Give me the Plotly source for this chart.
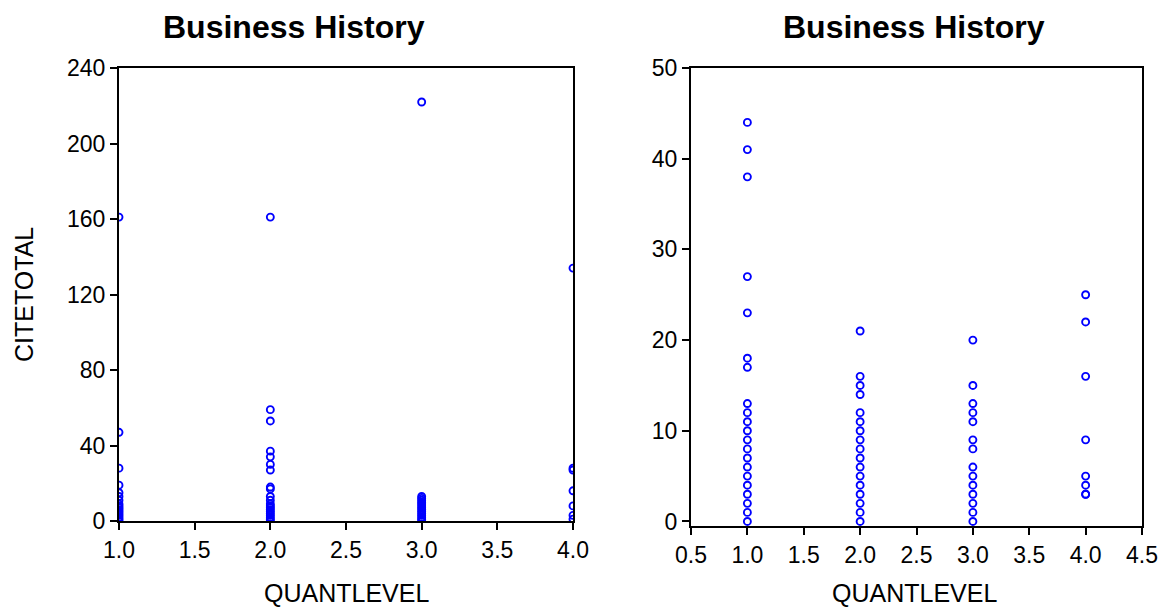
import plotly.graph_objects as go

# page has an ~8px body margin; coordinates below are measured in window pixels
OFF = 8
W, H = 1168 - OFF, 607 - OFF

# ---- data ----
quant_levels = [1, 2, 3, 4]

# left panel: all observations
left_q1 = [161, 47, 28, 19, 15, 13, 11, 9, 8, 7, 6, 5, 4, 3, 2, 1, 0]
left_q2 = [161, 59, 53, 37, 34, 30, 27, 18, 17, 13, 11, 9, 8, 7, 6, 5, 4, 3, 2, 1, 0]
left_q3 = [222, 13, 12, 11, 10, 9, 8, 7, 6, 5, 4, 3, 2, 1, 0]
left_q4 = [134, 28, 27, 16, 8, 3, 1]

# right panel: subset
right_q1 = [44, 41, 38, 27, 23, 18, 17, 13, 12, 11, 10, 9, 8, 7, 6, 5, 4, 3, 2, 1, 0]
right_q2 = [21, 16, 15, 14, 12, 11, 10, 9, 8, 7, 6, 5, 4, 3, 2, 1, 0]
right_q3 = [20, 15, 13, 12, 11, 9, 8, 6, 5, 4, 3, 2, 1, 0]
right_q4 = [25, 22, 16, 9, 5, 4, 3, 3]

left_ticks_y = [0, 40, 80, 120, 160, 200, 240]
right_ticks_y = [0, 10, 20, 30, 40, 50]
left_ticks_x = [1.0, 1.5, 2.0, 2.5, 3.0, 3.5, 4.0]
right_ticks_x = [0.5, 1.0, 1.5, 2.0, 2.5, 3.0, 3.5, 4.0, 4.5]

title_text = "Business History"
x_title = "QUANTLEVEL"
y_title = "CITETOTAL"


def flatten(groups):
    xs, ys = [], []
    for q, vals in zip(quant_levels, groups):
        xs += [q] * len(vals)
        ys += vals
    return xs, ys


lx, ly = flatten([left_q1, left_q2, left_q3, left_q4])
rx, ry = flatten([right_q1, right_q2, right_q3, right_q4])

marker = dict(symbol="circle-open", size=7, color="#0000FF",
              line=dict(width=1.9, color="#0000FF"))

fig = go.Figure()
fig.add_trace(go.Scatter(x=lx, y=ly, mode="markers", marker=marker,
                         xaxis="x", yaxis="y", showlegend=False))
fig.add_trace(go.Scatter(x=rx, y=ry, mode="markers", marker=marker,
                         xaxis="x2", yaxis="y2", showlegend=False))


def px_x(p):
    return (p - OFF) / W


def px_y(p):
    return 1 - (p - OFF) / H


FONT = "Liberation Sans, Arial, sans-serif"
axis_common = dict(showline=True, linecolor="black", linewidth=2, mirror=True,
                   ticks="outside", ticklen=7, tickwidth=2, tickcolor="black",
                   showgrid=False, zeroline=False, automargin=False,
                   ticklabeloverflow="allow",
                   tickfont=dict(family=FONT, size=23, color="black"))

fig.update_layout(
    template="none",
    width=W, height=H,
    margin=dict(l=0, r=0, t=0, b=0),
    paper_bgcolor="white", plot_bgcolor="white",
    xaxis=dict(domain=[px_x(119), px_x(573)], range=[1, 4], anchor="y",
               tickvals=left_ticks_x, ticktext=[f"{v:.1f}" for v in left_ticks_x],
               **axis_common),
    yaxis=dict(domain=[px_y(521), px_y(68)], range=[0, 240], anchor="x",
               tickvals=left_ticks_y, **axis_common),
    xaxis2=dict(domain=[px_x(691), px_x(1142)], range=[0.5, 4.5], anchor="y2",
                tickvals=right_ticks_x, ticktext=[f"{v:.1f}" for v in right_ticks_x],
                **axis_common),
    yaxis2=dict(domain=[px_y(526), px_y(68)], range=[-0.5, 50], anchor="x2",
                tickvals=right_ticks_y, **axis_common),
    annotations=[
        dict(text=f"<b>{title_text}</b>", x=px_x(294), y=px_y(27), xref="paper", yref="paper",
             xanchor="center", yanchor="middle", showarrow=False,
             font=dict(family=FONT, size=32, color="black")),
        dict(text=f"<b>{title_text}</b>", x=px_x(914), y=px_y(27), xref="paper", yref="paper",
             xanchor="center", yanchor="middle", showarrow=False,
             font=dict(family=FONT, size=32, color="black")),
        dict(text=x_title, x=px_x(346), y=px_y(593), xref="paper", yref="paper",
             xanchor="center", yanchor="middle", showarrow=False,
             font=dict(family=FONT, size=25, color="black")),
        dict(text=x_title, x=px_x(914), y=px_y(593), xref="paper", yref="paper",
             xanchor="center", yanchor="middle", showarrow=False,
             font=dict(family=FONT, size=25, color="black")),
        dict(text=y_title, x=px_x(24), y=px_y(295), xref="paper", yref="paper",
             xanchor="center", yanchor="middle", showarrow=False, textangle=-90,
             font=dict(family=FONT, size=25, color="black")),
    ],
)

fig.write_html("out.html")
